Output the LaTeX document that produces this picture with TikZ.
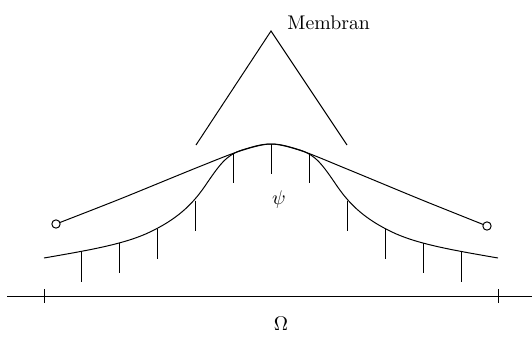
\documentclass[tikz,border=0pt]{standalone}
\usepackage{tikz}
\usetikzlibrary{positioning}

\begin{document}
\begin{tikzpicture}[x=0.01778cm, y=-0.01778cm, line width=0.5pt,
  endpt/.style={draw, circle, fill=white, inner sep=0pt, minimum size=4.2pt},
  lbl/.style={inner sep=0pt}]
  \useasboundingbox (0,0) rectangle (532,336);
  % axis with domain marks
  \coordinate (al) at (7,296); \coordinate (ar) at (532,296);
  \draw (al) -- (ar);
  \foreach \x in {44.7, 498.7} \draw (\x,289) -- (\x,303);
  \node[lbl] (om) at (281,324) {$\Omega$};
  % membrane (obstacle shape)
  \coordinate (ml) at (196,145); \coordinate (mt) at (271,31); \coordinate (mr) at (347,145);
  \draw (ml) -- (mt) -- (mr);
  \node[lbl, anchor=base west] (mem) at (287,29) {Membran};
  % solution curve with vertical ticks
  \draw (44,258) .. controls (90,250) and (125,244) .. (150,232)
    .. controls (175,220) and (191,206.5) .. (205,186)
    .. controls (219,165.5) and (226,155) .. (242,150)
    .. controls (255,146) and (262,144) .. (271,144)
    .. controls (280,144) and (287,146) .. (300,150)
    .. controls (316,155) and (323,165.5) .. (337,186)
    .. controls (351,206.5) and (367,220) .. (392,232)
    .. controls (417,244) and (452,250) .. (498,258);
  \foreach \x/\y in {81/251.5, 119/243, 157/228.5, 195/200.5, 233/152.5, 271/144,
      309/152.5, 347/200.5, 385/228.5, 423/243, 461/251.5}
    \draw (\x,\y) -- ++(0,30);
  \node[lbl] (psi) at (279,200) {$\psi$};
  % upper line between the two endpoints
  \coordinate (pl) at (56,224); \coordinate (pr) at (487,226);
  \draw plot[smooth, tension=0.5] coordinates {(pl) (120,199) (196,168) (240,151) (271,144)
    (302,151) (347,169) (422,200) (pr)};
  \node[endpt] (el) at (pl) {};
  \node[endpt] (er) at (pr) {};
\end{tikzpicture}
\end{document}
